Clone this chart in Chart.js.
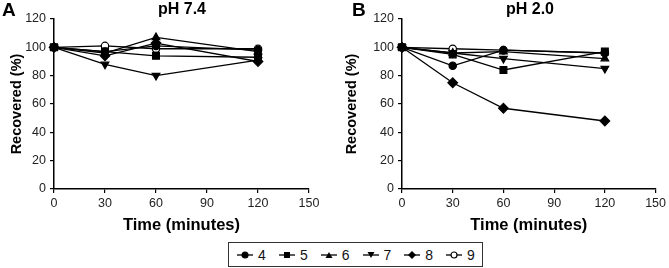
<!DOCTYPE html>
<html>
<head>
<meta charset="utf-8">
<script src="https://cdn.jsdelivr.net/npm/chart.js@4.4.0/dist/chart.umd.min.js"></script>
<style>
	body { margin: 0; background: #fff; font-family: Arial, 'Liberation Sans', sans-serif; }
	#wrap { position: relative; width: 669px; height: 268px; overflow: hidden; }
	.panel { position: absolute; top: 0; height: 242px; }
	.lbl { position: absolute; font-weight: bold; color: #000; }
	#legend { position: absolute; left: 228px; top: 242px; width: 253px; height: 23px; border: 1px solid #333; display: flex; align-items: center; justify-content: center; font-size: 14px; color: #111; background: #fff; }
	#legend span.item { display: inline-flex; align-items: center; margin: 0 6px; }
	#legend svg { margin-right: 4px; }
</style>
</head>
<body>
<div id="wrap">
	<div class="panel" style="left:0;width:335px"><canvas id="chartA"></canvas></div>
	<div class="panel" style="left:335px;width:334px"><canvas id="chartB"></canvas></div>
	<div class="lbl" style="left:2px;top:-1px;font-size:19px">A</div>
	<div class="lbl" style="left:352px;top:-1px;font-size:19px">B</div>
	<div class="lbl" style="left:158px;top:0px;font-size:16px">pH 7.4</div>
	<div class="lbl" style="left:506px;top:0px;font-size:16px">pH 2.0</div>
	<div id="legend"></div>
</div>
<script>
// czasy pomiaru (minuty)
const times = [0, 30, 60, 120]
const seriesNames = ['4', '5', '6', '7', '8', '9']

// pH 7.4
const a4 = [100, 97, 101, 98]
const a5 = [100, 97, 94, 93]
const a6 = [100, 96, 107, 97]
const a7 = [100, 88, 80, 91]
const a8 = [100, 94, 103, 90]
const a9 = [100, 101, 99, 99]

// pH 2.0
const b4 = [100, 87, 98, 96]
const b5 = [100, 95, 84, 97]
const b6 = [100, 96, 97, 92]
const b7 = [100, 96, 92, 85]
const b8 = [100, 75, 57, 48]
const b9 = [100, 99, 98, 96]

const xTicks = [0, 30, 60, 90, 120, 150]
const yTicks = [0, 20, 40, 60, 80, 100, 120]

const markers = [
	{ style: 'circle', r: 3.7, fill: '#000', rot: 0 },
	{ style: 'rect', r: 4.8, fill: '#000', rot: 0 },
	{ style: 'triangle', r: 4.4, fill: '#000', rot: 0 },
	{ style: 'triangle', r: 4.4, fill: '#000', rot: 180 },
	{ style: 'rectRot', r: 4.8, fill: '#000', rot: 0 },
	{ style: 'circle', r: 3.7, fill: '#fff', rot: 0 },
]

const makeDatasets = arrs =>
	arrs.map((vals, i) => ({
		label: seriesNames[i],
		data: vals.map((v, j) => ({ x: times[j], y: v })),
		borderColor: '#000',
		borderWidth: 1.3,
		backgroundColor: markers[i].fill,
		pointStyle: markers[i].style,
		pointRotation: markers[i].rot,
		pointRadius: markers[i].r,
		pointBorderWidth: 1.2,
		pointBorderColor: '#000',
		pointBackgroundColor: markers[i].fill,
		clip: false,
		tension: 0,
	}))

const fam = 'Arial, "Liberation Sans"'
const tickFont = { family: fam, size: 12.5 }

const makeOptions = (yWidth, padRight) => ({
	responsive: false,
	animation: false,
	layout: { padding: { left: 0, right: padRight, top: 19, bottom: 0 } },
	plugins: { legend: { display: false }, tooltip: { enabled: false } },
	scales: {
		x: {
			type: 'linear',
			min: 0,
			max: 150,
			afterBuildTicks: s => { s.ticks = xTicks.map(v => ({ value: v })) },
			afterFit: s => { s.height = 53 },
			border: { color: '#000', width: 1.5 },
			grid: { drawOnChartArea: false, tickLength: 4, color: '#000', lineWidth: 1.2 },
			ticks: { color: '#222', font: tickFont, padding: 3, maxRotation: 0 },
			title: { display: true, text: 'Time (minutes)', color: '#000', font: { family: fam, size: 16.5, weight: 'bold' }, padding: { top: 0, bottom: 7 } },
		},
		y: {
			type: 'linear',
			min: 0,
			max: 120,
			afterBuildTicks: s => { s.ticks = yTicks.map(v => ({ value: v })) },
			afterFit: s => { s.width = yWidth },
			border: { color: '#000', width: 1.5 },
			grid: { drawOnChartArea: false, tickLength: 4, color: '#000', lineWidth: 1.2 },
			ticks: { color: '#222', font: tickFont, padding: 4 },
			title: { display: true, text: 'Recovered (%)', color: '#000', font: { family: fam, size: 14.5, weight: 'bold' }, padding: { top: 8, bottom: 0 } },
		},
	},
})

const setupCanvas = (id, w, h) => {
	const c = document.getElementById(id)
	c.width = w
	c.height = h
	c.style.width = w + 'px'
	c.style.height = h + 'px'
	return c.getContext('2d')
}

new Chart(setupCanvas('chartA', 335, 242), {
	type: 'line',
	data: { datasets: makeDatasets([a4, a5, a6, a7, a8, a9]) },
	options: makeOptions(54, 26),
})

new Chart(setupCanvas('chartB', 334, 242), {
	type: 'line',
	data: { datasets: makeDatasets([b4, b5, b6, b7, b8, b9]) },
	options: makeOptions(67, 11),
})

// legenda pod wykresami
const svgMarker = m => {
	const cx = 9, cy = 6
	if (m.style === 'circle') return `<circle cx="${cx}" cy="${cy}" r="3" fill="${m.fill}" stroke="#000" stroke-width="1.2"/>`
	if (m.style === 'rect') return `<rect x="${cx - 3}" y="${cy - 3}" width="6" height="6" fill="#000"/>`
	if (m.style === 'rectRot') return `<polygon points="${cx},${cy - 4} ${cx + 4},${cy} ${cx},${cy + 4} ${cx - 4},${cy}" fill="#000"/>`
	if (m.rot === 180) return `<polygon points="${cx - 3.5},${cy - 3} ${cx + 3.5},${cy - 3} ${cx},${cy + 3}" fill="#000"/>`
	return `<polygon points="${cx - 3.5},${cy + 3} ${cx + 3.5},${cy + 3} ${cx},${cy - 3}" fill="#000"/>`
}
document.getElementById('legend').innerHTML = seriesNames
	.map((n, i) => `<span class="item"><svg width="18" height="12"><line x1="1" y1="6" x2="17" y2="6" stroke="#000" stroke-width="1.3"/>${svgMarker(markers[i])}</svg>${n}</span>`)
	.join('')
</script>
</body>
</html>
